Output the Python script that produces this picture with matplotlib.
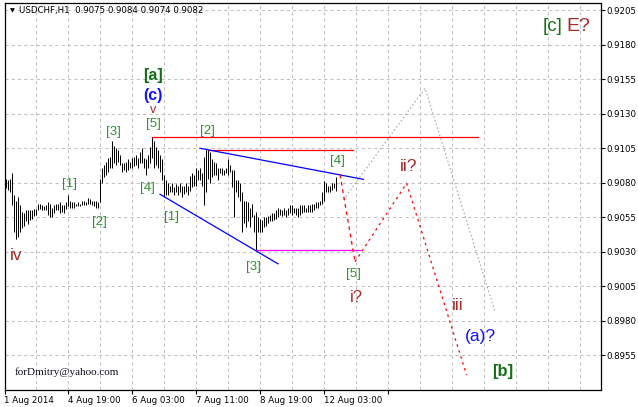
import matplotlib
matplotlib.use('Agg')
import matplotlib.pyplot as plt
import numpy as np

plt.rcParams['font.family'] = ['DejaVu Sans']

# ---------------- data (USDCHF H1, bar highs / lows) ----------------
highs = [
    0.9083, 0.9082, 0.9083, 0.9087, 0.9071, 0.9067, 0.9070, 0.9064, 0.9059, 0.9058,
    0.9060, 0.9060, 0.9060, 0.9060, 0.9061, 0.9061, 0.9065, 0.9065, 0.9064, 0.9063,
    0.9064, 0.9066, 0.9065, 0.9062, 0.9064, 0.9065, 0.9065, 0.9066, 0.9064, 0.9064,
    0.9066, 0.9071, 0.9067, 0.9066, 0.9066, 0.9065, 0.9066, 0.9065, 0.9067, 0.9067,
    0.9066, 0.9069, 0.9068, 0.9067, 0.9067, 0.9067, 0.9066, 0.9083, 0.9091, 0.9093,
    0.9095, 0.9098, 0.9099, 0.9110, 0.9107, 0.9105, 0.9104, 0.9100, 0.9094, 0.9094,
    0.9095, 0.9097, 0.9095, 0.9098, 0.9099, 0.9100, 0.9098, 0.9102, 0.9105, 0.9098,
    0.9097, 0.9100, 0.9106, 0.9113, 0.9110, 0.9106, 0.9104, 0.9100, 0.9097, 0.9086,
    0.9082, 0.9080, 0.9078, 0.9080, 0.9077, 0.9079, 0.9078, 0.9080, 0.9078, 0.9078,
    0.9080, 0.9078, 0.9085, 0.9087, 0.9086, 0.9091, 0.9089, 0.9091, 0.9087, 0.9099,
    0.9104, 0.9104, 0.9102, 0.9097, 0.9095, 0.9094, 0.9091, 0.9091, 0.9091, 0.9089,
    0.9091, 0.9097, 0.9093, 0.9089, 0.9089, 0.9082, 0.9082, 0.9080, 0.9073, 0.9067,
    0.9067, 0.9066, 0.9062, 0.9065, 0.9057, 0.9059, 0.9055, 0.9054, 0.9053, 0.9055,
    0.9055, 0.9056, 0.9057, 0.9058, 0.9058, 0.9060, 0.9062, 0.9061, 0.9060, 0.9062,
    0.9060, 0.9062, 0.9064, 0.9064, 0.9062, 0.9062, 0.9062, 0.9064, 0.9064, 0.9064,
    0.9062, 0.9064, 0.9064, 0.9065, 0.9065, 0.9066, 0.9066, 0.9067, 0.9073, 0.9081,
    0.9080, 0.9078, 0.9078, 0.9080, 0.9080, 0.9084,
]
lows = [
    0.9076, 0.9075, 0.9073, 0.9064, 0.9044, 0.9039, 0.9041, 0.9044, 0.9047, 0.9049,
    0.9052, 0.9050, 0.9053, 0.9054, 0.9056, 0.9057, 0.9060, 0.9061, 0.9060, 0.9060,
    0.9060, 0.9057, 0.9055, 0.9055, 0.9058, 0.9060, 0.9060, 0.9058, 0.9059, 0.9058,
    0.9061, 0.9063, 0.9062, 0.9062, 0.9062, 0.9063, 0.9063, 0.9063, 0.9064, 0.9064,
    0.9064, 0.9065, 0.9065, 0.9064, 0.9063, 0.9062, 0.9062, 0.9066, 0.9080, 0.9084,
    0.9086, 0.9088, 0.9091, 0.9091, 0.9094, 0.9093, 0.9095, 0.9093, 0.9088, 0.9089,
    0.9088, 0.9089, 0.9091, 0.9091, 0.9092, 0.9093, 0.9091, 0.9094, 0.9094, 0.9091,
    0.9086, 0.9091, 0.9094, 0.9098, 0.9091, 0.9093, 0.9091, 0.9088, 0.9082, 0.9070,
    0.9071, 0.9071, 0.9073, 0.9073, 0.9071, 0.9073, 0.9071, 0.9073, 0.9070, 0.9072,
    0.9073, 0.9071, 0.9074, 0.9077, 0.9078, 0.9078, 0.9082, 0.9082, 0.9078, 0.9064,
    0.9073, 0.9083, 0.9080, 0.9084, 0.9086, 0.9086, 0.9082, 0.9087, 0.9086, 0.9086,
    0.9087, 0.9086, 0.9088, 0.9077, 0.9055, 0.9073, 0.9070, 0.9067, 0.9044, 0.9051,
    0.9048, 0.9052, 0.9048, 0.9055, 0.9044, 0.9031, 0.9044, 0.9044, 0.9044, 0.9048,
    0.9049, 0.9051, 0.9052, 0.9052, 0.9053, 0.9054, 0.9055, 0.9057, 0.9056, 0.9057,
    0.9055, 0.9057, 0.9058, 0.9057, 0.9058, 0.9057, 0.9055, 0.9057, 0.9058, 0.9059,
    0.9059, 0.9059, 0.9059, 0.9059, 0.9060, 0.9062, 0.9062, 0.9064, 0.9065, 0.9067,
    0.9073, 0.9073, 0.9073, 0.9075, 0.9076, 0.9074,
]

y_ticks = [0.8955, 0.8980, 0.9005, 0.9030, 0.9055, 0.9080, 0.9105, 0.9130, 0.9155, 0.9180, 0.9205]
y_tick_labels = ['0.8955', '0.8980', '0.9005', '0.9030', '0.9055', '0.9080',
                 '0.9105', '0.9130', '0.9155', '0.9180', '0.9205']
x_ticks = [-0.75, 31.15, 63.15, 95.15, 127.15, 159.15, 191.15]
x_tick_labels = ['1 Aug 2014', '4 Aug 19:00', '6 Aug 03:00', '7 Aug 11:00',
                 '8 Aug 19:00', '12 Aug 03:00', '']

# horizontal levels: (start bar, end bar, price, colour)
level_x0 = [73, 101, 125]
level_x1 = [236, 173.5, 177]
level_p = [0.9113, 0.9104, 0.9031]
level_c = ['#ff0000', '#ff0000', '#ff00ff']

# triangle trend lines
tri_upper_x = [97, 178.7]
tri_upper_p = [0.9105, 0.90825]
tri_lower_x = [77, 136]
tri_lower_p = [0.90717, 0.90213]

# projected wave paths
wave_x = [167, 174.5, 200.3, 230.3]
wave_p = [0.9086, 0.90228, 0.90796, 0.89407]
alt_x = [168.7, 209.5, 244.5]
alt_p = [0.90678, 0.91485, 0.89866]

# wave labels: text, bar, price, colour, size, weight
GREEN = '#2f8f2f'
DGREEN = '#167016'
BROWN = '#a52a2a'
BLUE = '#1010ff'
lab_text = ['[a]', '(c)', 'v', '[5]', '[3]', '[2]', '[1]', '[2]', '[4]', '[1]', '[3]',
            '[4]', '[5]', 'iv', 'i?', 'ii?', 'iii', '(a)?', '[b]', '[c]', 'E?']
lab_x = [73.6, 73.4, 73.4, 73.6, 53.7, 100.6, 31.6, 46.5, 70.6, 82.8, 123.7,
         165.6, 173.7, 5.0, 175.3, 201.5, 225.8, 237.3, 248.2, 273.5, 286.0]
lab_p = [0.91575, 0.91429, 0.91328, 0.91226, 0.91171, 0.91178, 0.90793, 0.90519, 0.90762,
         0.90554, 0.90187, 0.90955, 0.90140, 0.90272, 0.89972, 0.90919, 0.89910, 0.89688,
         0.89431, 0.91929, 0.91929]
lab_c = [DGREEN, BLUE, BROWN, GREEN, GREEN, GREEN, GREEN, GREEN, GREEN, GREEN, GREEN,
         GREEN, GREEN, BROWN, BROWN, BROWN, BROWN, BLUE, DGREEN, DGREEN, BROWN]
lab_s = [11.5, 11.5, 9, 9.5, 9.5, 9.5, 9.5, 9.5, 9.5, 9.5, 9.5,
         9.5, 9.5, 12.5, 12, 12.5, 12.5, 12.5, 12, 13.5, 14]
lab_w = ['bold', 'bold', 'normal', 'normal', 'normal', 'normal', 'normal', 'normal', 'normal',
         'normal', 'normal', 'normal', 'normal', 'normal', 'normal', 'normal', 'normal',
         'normal', 'bold', 'normal', 'normal']

# ---------------- figure ----------------
W, H = 638, 407
fig = plt.figure(figsize=(W / 100, H / 100), dpi=100)
fig.patch.set_facecolor('white')
ax = fig.add_axes([4.5 / W, (H - 389.5) / H, 596 / W, 387 / H])
ax.set_facecolor('white')
ax.set_xlim(-0.75, 297.25)
ax.set_ylim(0.893022, 0.921065)

# grid
grid_style = dict(color='#c0c0c0', lw=0.75, linestyle=(0, (3, 3)), zorder=0)
for yv in y_ticks:
    ax.axhline(yv, **grid_style)
for gx in np.arange(-0.85 + 16, 297, 16):
    ax.axvline(gx, **grid_style)

# price bars
xb = np.arange(len(highs))
ax.vlines(xb, lows, highs, color='black', lw=0.72, zorder=3)

# levels
for x0, x1, p, c in zip(level_x0, level_x1, level_p, level_c):
    ax.plot([x0, x1], [p, p], color=c, lw=0.9, zorder=4)

ax.plot(tri_upper_x, tri_upper_p, color='#0000ff', lw=0.9, zorder=4)
ax.plot(tri_lower_x, tri_lower_p, color='#0000ff', lw=0.9, zorder=4)

ax.plot(wave_x[:2], wave_p[:2], color='#ff0000', lw=0.9, linestyle=(0, (3, 3)), zorder=4)
ax.plot(wave_x[1:], wave_p[1:], color='#ff0000', lw=0.9, linestyle=(0, (2, 3)), zorder=4)
ax.plot(alt_x, alt_p, color='#a8a8a8', lw=0.8, linestyle=(0, (1.5, 2)), zorder=2)

for t, x, p, c, s, w in zip(lab_text, lab_x, lab_p, lab_c, lab_s, lab_w):
    ax.text(x, p, t, color=c, fontsize=s, fontweight=w, ha='center', va='center',
            family=['Liberation Sans', 'DejaVu Sans'], zorder=6)

# axes styling
for sp in ax.spines.values():
    sp.set_color('black')
    sp.set_linewidth(0.9)
ax.yaxis.tick_right()
ax.set_yticks(y_ticks)
ax.set_yticklabels(y_tick_labels)
ax.set_xticks(x_ticks)
ax.set_xticklabels(x_tick_labels, ha='left')
ax.tick_params(axis='y', direction='out', length=3, width=0.8, pad=1.2,
               labelsize=6.2, colors='black')
ax.tick_params(axis='x', direction='out', length=3, width=0.8, pad=1.5,
               labelsize=6.2, colors='black')
ax.tick_params(axis='y', left=False)
ax.tick_params(axis='x', top=False)

# header and signature
fig.text(12 / W, 1 - 10.5 / H, '\u25bc', fontsize=4.5, color='black', ha='center', va='center')
fig.text(19 / W, 1 - 10 / H, 'USDCHF,H1  0.9075 0.9084 0.9074 0.9082',
         fontsize=6.2, color='black', ha='left', va='center')
fig.text(15 / W, 1 - 372 / H, 'forDmitry@yahoo.com', fontsize=8, color='#101020',
         ha='left', va='center', family=['Liberation Serif', 'DejaVu Serif'])

fig.savefig('out.png', dpi=100, facecolor='white')
